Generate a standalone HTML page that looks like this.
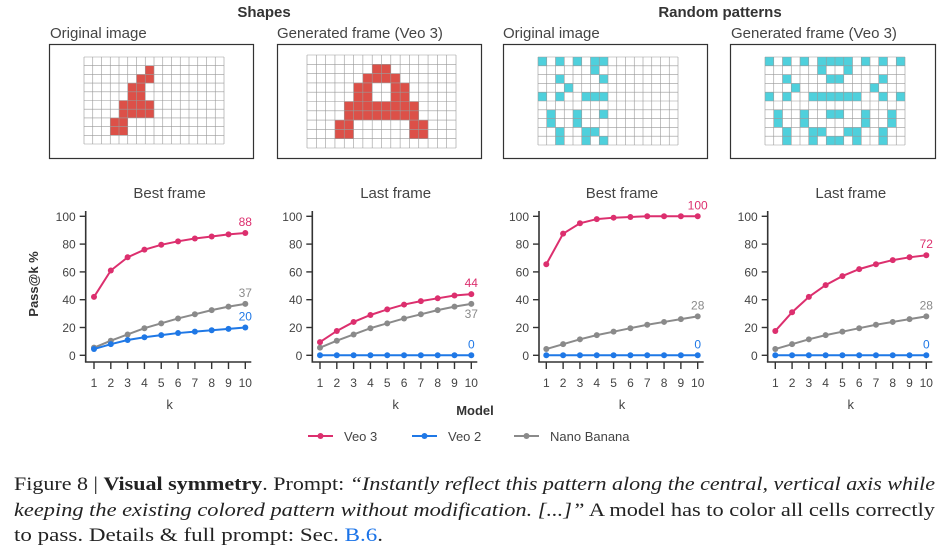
<!DOCTYPE html>
<html><head><meta charset="utf-8"><style>
html,body{margin:0;padding:0;background:#fff}
svg{display:block;font-family:"Liberation Sans",sans-serif}
</style></head><body>
<svg id="fig" width="945" height="554" viewBox="0 0 945 554">
<text x="264" y="17" text-anchor="middle" font-weight="bold" font-size="15" fill="#333">Shapes</text>
<text x="720" y="17" text-anchor="middle" font-weight="bold" font-size="15" fill="#333">Random patterns</text>
<text x="50" y="38" font-size="15" fill="#444">Original image</text>
<text x="277" y="38" font-size="15" fill="#444">Generated frame (Veo 3)</text>
<text x="503" y="38" font-size="15" fill="#444">Original image</text>
<text x="731" y="38" font-size="15" fill="#444">Generated frame (Veo 3)</text>
<g id="grids"></g>
<g id="charts"></g>
<text x="475" y="415" text-anchor="middle" font-weight="bold" font-size="13" fill="#333">Model</text>
<g><line x1="308" y1="436" x2="333" y2="436" stroke="#dc2f6e" stroke-width="2"/><circle cx="320.5" cy="436" r="3" fill="#dc2f6e"/><text x="344" y="441" font-size="13" fill="#444">Veo 3</text></g>
<g><line x1="412" y1="436" x2="437" y2="436" stroke="#1f78e6" stroke-width="2"/><circle cx="424.5" cy="436" r="3" fill="#1f78e6"/><text x="448" y="441" font-size="13" fill="#444">Veo 2</text></g>
<g><line x1="514" y1="436" x2="539" y2="436" stroke="#8a8a8a" stroke-width="2"/><circle cx="526.5" cy="436" r="3" fill="#8a8a8a"/><text x="550" y="441" font-size="13" fill="#444">Nano Banana</text></g>
<g font-family="'Liberation Serif',serif" font-size="19" fill="#222">
<text x="14" y="490" textLength="921" lengthAdjust="spacingAndGlyphs">Figure 8 | <tspan font-weight="bold">Visual symmetry</tspan>. Prompt: <tspan font-style="italic">“Instantly reflect this pattern along the central, vertical axis while</tspan></text>
<text x="14" y="516" textLength="921" lengthAdjust="spacingAndGlyphs"><tspan font-style="italic">keeping the existing colored pattern without modification. [...]”</tspan> A model has to color all cells correctly</text>
<text x="14" y="541" textLength="369" lengthAdjust="spacingAndGlyphs">to pass. Details &amp; full prompt: Sec. <tspan fill="#1a73e8">B.6</tspan>.</text>
</g>
</svg>
<script>
const ks=[1,2,3,4,5,6,7,8,9,10];
const yTicks=[0,20,40,60,80,100];
const c1Veo3=[42,61,70.5,76,79.5,82,84,85.5,87,88];
const c1Veo2=[4.5,8,11,13,14.5,16,17,18,19,20];
const c1Nano=[5.5,10.5,15,19.5,23,26.5,29.5,32.5,35,37];
const c2Veo3=[9.5,17.5,24,29,33,36.5,39,41,43,44];
const c2Veo2=[0,0,0,0,0,0,0,0,0,0];
const c2Nano=[5.5,10.5,15,19.5,23,26.5,29.5,32.5,35,37];
const c3Veo3=[65.5,87.5,95,98,99,99.5,100,100,100,100];
const c3Veo2=[0,0,0,0,0,0,0,0,0,0];
const c3Nano=[4.5,8,11.5,14.5,17,19.5,22,24,26,28];
const c4Veo3=[17.5,31,42,50.5,57,62,65.5,68.5,70.5,72];
const c4Veo2=[0,0,0,0,0,0,0,0,0,0];
const c4Nano=[4.5,8,11.5,14.5,17,19.5,22,24,26,28];
const titles=["Best frame","Last frame","Best frame","Last frame"];
const shapeOrig=[[],[7],[6,7],[5,6],[5,6],[4,5,6,7],[4,5,6,7],[3,4],[3,4],[]];
const randOrig=[[0,2,4,6,7],[6],[2,7],[3],[0,2,5,6,7],[],[1,4,7],[1,4],[2,5,6],[2,5,7]];

const NS="http://www.w3.org/2000/svg";
function mk(t,a,p){const e=document.createElementNS(NS,t);for(const k in a)e.setAttribute(k,a[k]);p.appendChild(e);return e;}
const grids=document.getElementById('grids');
const boxes=[[49.5,44.5,204,114],[277.5,44.5,204,114],[503.5,44.5,204,114],[730.5,44.5,205,114]];
boxes.forEach((b,i)=>{const r=mk('rect',{x:b[0],y:b[1],width:b[2],height:b[3],fill:'#fff',stroke:'#333','stroke-width':1.2},grids);

});
function mirror(rows){return rows.map(r=>{const s=new Set(r);r.forEach(c=>s.add(15-c));return [...s];});}
function drawGrid(x0,y0,w,h,rows,color,name){
  const g=mk('g',{},grids);
  
  
  const cw=w/16,ch=h/10;
  rows.forEach((r,ri)=>r.forEach(c=>mk('rect',{x:x0+c*cw,y:y0+ri*ch,width:cw,height:ch,fill:color},g)));
  for(let i=0;i<=16;i++)mk('line',{x1:x0+i*cw,y1:y0,x2:x0+i*cw,y2:y0+h,stroke:'#999','stroke-width':0.6},g);
  for(let j=0;j<=10;j++)mk('line',{x1:x0,y1:y0+j*ch,x2:x0+w,y2:y0+j*ch,stroke:'#999','stroke-width':0.6},g);
}
drawGrid(84,57,140,87,shapeOrig,'#dc5048','grid-shapes-original');
drawGrid(307,55,149,93,mirror(shapeOrig),'#dc5048','grid-shapes-generated');
drawGrid(538,57,140,88,randOrig,'#4fd0dc','grid-random-original');
drawGrid(765,57,140,88,mirror(randOrig),'#4fd0dc','grid-random-generated');

const charts=document.getElementById('charts');
const panels=[{x1:94,x10:245.3,sp:85.7,d:[c1Veo3,c1Veo2,c1Nano]},
{x1:320,x10:471.3,sp:312.3,d:[c2Veo3,c2Veo2,c2Nano]},
{x1:546.3,x10:697.7,sp:539,d:[c3Veo3,c3Veo2,c3Nano]},
{x1:775.3,x10:926.3,sp:767.7,d:[c4Veo3,c4Veo2,c4Nano]}];
const cols=['#dc2f6e','#1f78e6','#8a8a8a'];
const snames=['veo3','veo2','nano-banana'];
const Y0=355.3,Y100=216.3;
const ys=v=>Y0+(Y100-Y0)*v/100;
panels.forEach((p,pi)=>{
  const g=mk('g',{},charts);
  
  
  const xs=k=>p.x1+(p.x10-p.x1)*(k-1)/9;
  const cx=(p.x1+p.x10)/2;
  const t=mk('text',{x:cx,y:198,'text-anchor':'middle','font-size':15,fill:'#444'},g);t.textContent=titles[pi];
  
  
  mk('line',{x1:p.sp,y1:211,x2:p.sp,y2:362,stroke:'#333','stroke-width':1.6},g);
  mk('line',{x1:p.sp-0.8,y1:362,x2:p.x10+6,y2:362,stroke:'#333','stroke-width':1.6},g);
  yTicks.forEach(v=>{mk('line',{x1:p.sp-6,y1:ys(v),x2:p.sp,y2:ys(v),stroke:'#333','stroke-width':1.4},g);
    const tl=mk('text',{x:p.sp-10,y:ys(v)+4.5,'text-anchor':'end','font-size':12,fill:'#444'},g);tl.textContent=v;
    
    });
  ks.forEach(k=>{mk('line',{x1:xs(k),y1:362,x2:xs(k),y2:369,stroke:'#333','stroke-width':1.4},g);
    const tl=mk('text',{x:xs(k),y:387,'text-anchor':'middle','font-size':12,fill:'#444'},g);tl.textContent=k;
    
    });
  const xl=mk('text',{x:cx,y:409,'text-anchor':'middle','font-size':13,fill:'#444'},g);xl.textContent='k';
  
  
  [2,1,0].forEach(si=>{
    const d=p.d[si];
    const pl=mk('polyline',{points:d.map((v,i)=>xs(ks[i])+','+ys(v)).join(' '),fill:'none',stroke:cols[si],'stroke-width':2},g);
    
    
    d.forEach((v,i)=>{const c=mk('circle',{cx:xs(ks[i]),cy:ys(v),r:3,fill:cols[si]},g);
      
      });
  });
  // end labels
  const last=p.d.map(d=>d[9]);
  const offs=[-7,-7,-7];
  if(pi===1){offs[2]=14;}
  last.forEach((v,si)=>{const lb=mk('text',{x:p.x10,y:ys(v)+offs[si],'text-anchor':'middle','font-size':12,fill:cols[si]},g);
    lb.textContent=Math.round(v);
    
    });
});
const yl=mk('text',{x:0,y:0,transform:'translate(38,284) rotate(-90)','text-anchor':'middle','font-size':13,'font-weight':'bold',fill:'#333'},charts);
yl.textContent='Pass@k %';


</script>
</body></html>
